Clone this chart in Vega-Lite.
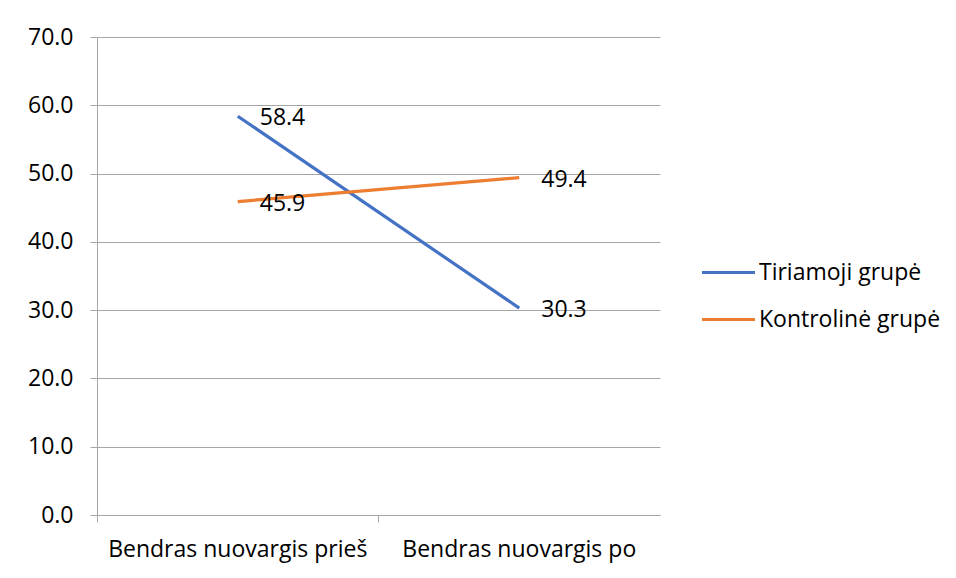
{
  "$schema": "https://vega.github.io/schema/vega-lite/v6.json",
  "autosize": "none",
  "width": 563,
  "height": 478,
  "padding": {"left": 97, "top": 37, "right": 296, "bottom": 63},
  "background": "white",
  "config": {
    "font": "Open Sans",
    "view": {"stroke": null},
    "axis": {"labelFont": "Open Sans", "labelFontSize": 23, "labelColor": "#000000", "domainColor": "#a6a6a6", "tickColor": "#a6a6a6", "gridColor": "#a6a6a6", "title": null, "labelLimit": 0}
  },
  "data": {
    "values": [
      {"laikas": "Bendras nuovargis prieš", "grupe": "Tiriamoji grupė", "reiksme": 58.4},
      {"laikas": "Bendras nuovargis po", "grupe": "Tiriamoji grupė", "reiksme": 30.3},
      {"laikas": "Bendras nuovargis prieš", "grupe": "Kontrolinė grupė", "reiksme": 45.9},
      {"laikas": "Bendras nuovargis po", "grupe": "Kontrolinė grupė", "reiksme": 49.4}
    ]
  },
  "encoding": {
    "x": {
      "field": "laikas", "type": "nominal", "sort": null,
      "scale": {"type": "band", "paddingInner": 0, "paddingOuter": 0},
      "axis": {"labelAngle": 0, "bandPosition": 0, "tickSize": 7, "labelPadding": 16, "domain": true, "grid": false, "labelBaseline": "top"}
    },
    "y": {
      "field": "reiksme", "type": "quantitative",
      "scale": {"domain": [0, 70], "nice": false},
      "axis": {"values": [0, 10, 20, 30, 40, 50, 60, 70], "format": ".1f", "tickSize": 7, "labelPadding": 17, "grid": true, "domain": true}
    }
  },
  "layer": [
    {
      "mark": {"type": "line", "strokeWidth": 3.2},
      "encoding": {
        "color": {
          "field": "grupe", "type": "nominal",
          "sort": ["Tiriamoji grupė", "Kontrolinė grupė"],
          "scale": {"domain": ["Tiriamoji grupė", "Kontrolinė grupė"], "range": ["#4472C4", "#ED7D31"]},
          "legend": {
            "title": null, "orient": "none", "legendX": 603, "legendY": 207,
            "symbolType": "stroke", "symbolSize": 2809, "symbolStrokeWidth": 3.2,
            "labelFont": "Open Sans", "labelFontSize": 23, "labelColor": "#000000",
            "rowPadding": 6, "labelOffset": 2, "labelLimit": 0
          }
        }
      }
    },
    {
      "mark": {"type": "text", "align": "left", "baseline": "middle", "dx": 22, "dy": 2, "fontSize": 23, "font": "Open Sans", "color": "#000000"},
      "encoding": {
        "text": {"field": "reiksme", "type": "quantitative", "format": ".1f"},
        "detail": {"field": "grupe"}
      }
    }
  ]
}
